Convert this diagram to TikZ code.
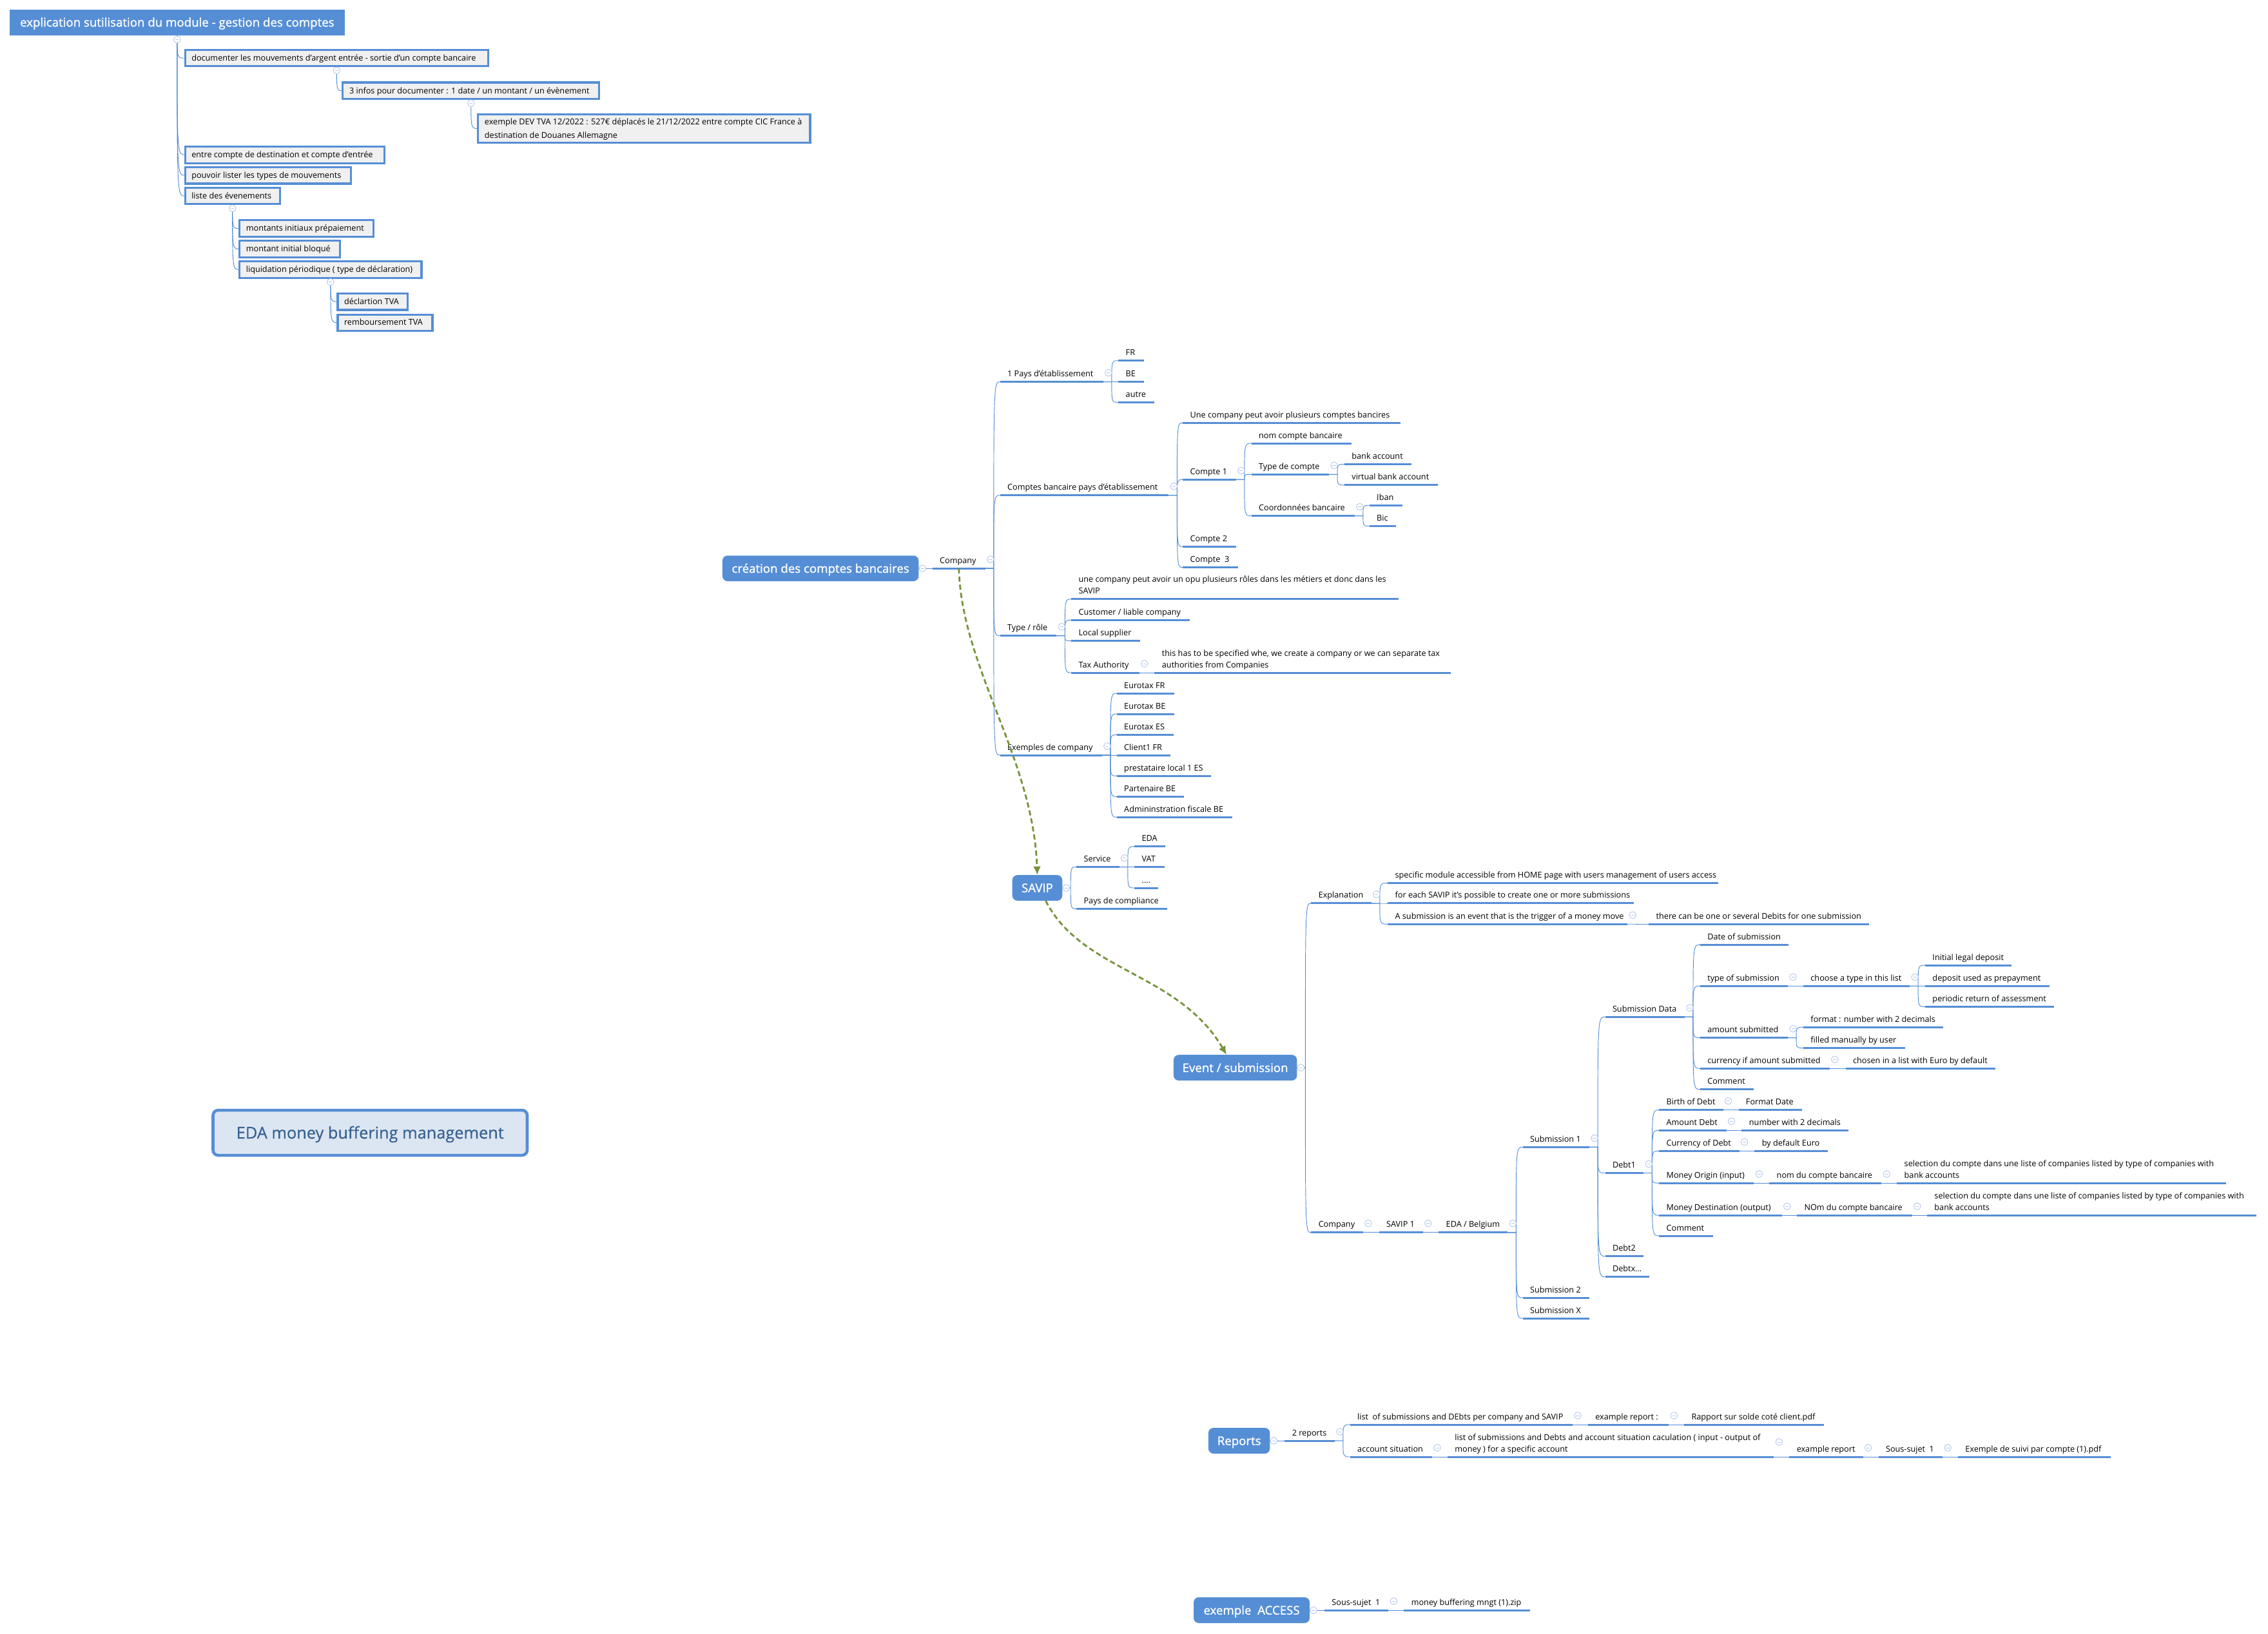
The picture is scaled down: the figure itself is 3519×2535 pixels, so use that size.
\documentclass[tikz,border=0pt]{standalone}
\usepackage{fontspec}
\setmainfont{Open Sans}
\newfontfamily\semifont{Open Sans}[FakeBold=1.1]
\newfontfamily\medfont{Open Sans}[FakeBold=0.5]
\usetikzlibrary{arrows.meta,calc}
\definecolor{mblue}{HTML}{558ED5}
\definecolor{mgreen}{HTML}{76923C}
\definecolor{mcoll}{HTML}{B7C9EC}
\definecolor{mtitle}{HTML}{366092}
\definecolor{mpale}{HTML}{DCE6F2}
\definecolor{mgrey}{HTML}{F0F0F0}
\tikzset{
  topic/.style={anchor=south west,inner sep=0pt,outer sep=0pt,text depth=6pt,font=\fontsize{9.5}{13.5}\selectfont,text=black},
  uline/.style={draw=mblue,line width=2.25pt},
  cline/.style={draw=mblue,line width=0.7pt},
  rootbox/.style={fill=mblue,text=white,rounded corners=6pt,inner sep=0pt,outer sep=0pt,text height=13pt,text depth=2.8pt,font=\fontsize{14}{16}\selectfont\semifont},
  headbox/.style={fill=mblue,text=white,inner sep=0pt,outer sep=0pt,text height=12.5pt,text depth=2.8pt,font=\fontsize{14}{15}\selectfont\semifont},
  notebox/.style={fill=mgrey,draw=mblue,line width=2.4pt,inner sep=0pt,outer sep=0pt,font=\fontsize{9.5}{16}\selectfont,text=black},
  titlebox/.style={fill=mpale,draw=mblue,line width=3.4pt,rounded corners=6pt,inner sep=0pt,outer sep=0pt,text=mtitle,text height=18pt,text depth=4.4pt,font=\fontsize{19}{22}\selectfont\medfont},
  collmark/.style={draw=mcoll,line width=0.7pt,fill=white},
  relarrow/.style={draw=mgreen,line width=2.1pt,dash pattern=on 6pt off 3.5pt,-{Latex[length=10pt,width=9pt,fill=mgreen]}}
}
% measuring frame of a group of coordinates: origin x, origin y, scale x, scale y
\newcommand{\setframe}[4]{\def\fox{#1}\def\foy{#2}\def\fsx{#3}\def\fsy{#4}}
\newcommand{\fx}[2]{\pgfmathsetmacro{#1}{\fox+(#2-\fox)*\fsx}}
\newcommand{\fy}[2]{\pgfmathsetmacro{#1}{\foy+(#2-\foy)*\fsy}}
% topic with underline: name, x0, x1, y of underline, text
\newcommand{\topic}[5]{%
  \fx{\ax}{#2}\fx{\bx}{#3}\fy{\ay}{#4}%
  \pgfmathsetlengthmacro{\tw}{(\bx-\ax)*0.75pt}%
  \node[topic] (#1) at (\ax,\ay) {\makebox[\tw][l]{\hspace{8.6pt}\begin{tabular}[b]{@{}l@{}}#5\end{tabular}}};%
  \draw[uline] (#1.south west) -- (#1.south east);}
% box: style, name, x0, x1, y0, y1, text
\newcommand{\solidbox}[7]{%
  \fx{\ax}{#3}\fx{\bx}{#4}\fy{\ay}{#5}\fy{\by}{#6}%
  \pgfmathsetlengthmacro{\tw}{(\bx-\ax)*0.75pt}%
  \pgfmathsetlengthmacro{\bxh}{(\by-\ay)*0.75pt}%
  \node[#1,minimum width=\tw,minimum height=\bxh] (#2) at ({(\ax+\bx)/2},{(\ay+\by)/2}) {#7};}
\newcommand{\notebx}[6]{%
  \fx{\ax}{#2}\fx{\bx}{#3}\fy{\ay}{#4}\fy{\by}{#5}%
  \pgfmathsetlengthmacro{\tw}{(\bx-\ax)*0.75pt-2.4pt}%
  \pgfmathsetlengthmacro{\bxh}{(\by-\ay)*0.75pt-2.4pt}%
  \node[notebox,minimum width=\tw,minimum height=\bxh] (#1) at ({(\ax+\bx)/2},{(\ay+\by)/2}) {\makebox[\tw][l]{\hspace{7.6pt}\raisebox{-1pt}{\begin{tabular}{@{}l@{}}#6\end{tabular}}}};}
% connector from parent's right end to child's underline start
\newcommand{\conn}[3][south east]{%
  \draw[cline] (#2.#1) -- ++(13,0) coordinate (spn) .. controls (spn |- #3.south west) and (spn |- #3.south west) .. (#3.south west);}
% connector from a note box's bottom to a child's left side
\newcommand{\noteconn}[2]{%
  \draw[cline] (#1.south) .. controls (#1.south |- #2.west) and (#1.south |- #2.west) .. (#2.west);}
% collapse marks
\newcommand{\markat}[1]{%
  \draw[collmark] #1 circle[radius=4pt];
  \draw[mcoll,line width=0.7pt] #1 ++(-2.6,0) -- ++(5.2,0);}
\newcommand{\coll}[2][-14]{\markat{($(#2.south east)+(8,#1)$)}}
\newcommand{\collbox}[1]{\markat{($(#1.east)+(6,0)$)}}
\newcommand{\collnote}[1]{\markat{($(#1.south)+(0,6.5)$)}}
\begin{document}
\begin{tikzpicture}[x=0.75pt,y=-0.75pt]
\useasboundingbox (0,0) rectangle (3519,2535);
% ---------- upper-left note tree
\setframe{0}{0}{0.9949}{0.9949}
\solidbox{headbox}{head}{15}{537.5}{15}{55}{explication sutilisation du module - gestion des comptes}
\notebx{na}{287}{763}{76.5}{105}{documenter les mouvements d'argent entrée - sortie d'un compte bancaire}
\notebx{nb}{533}{936}{127}{156}{3 infos pour documenter : 1 date / un montant / un évènement}
\notebx{nc}{744}{1265}{177}{224}{exemple DEV TVA 12/2022 : 527€ déplacés le 21/12/2022 entre compte CIC France à\\destination de Douanes Allemagne}
\notebx{nd}{287}{601}{227}{256}{entre compte de destination et compte d'entrée}
\notebx{ne}{287}{549}{259}{288}{pouvoir lister les types de mouvements}
\notebx{nf}{287}{438}{291.5}{320}{liste des évenements}
\notebx{ng}{372}{584}{342}{371}{montants initiaux prépaiement}
\notebx{nh}{372}{532}{374}{403}{montant initial bloqué}
\notebx{ni}{372}{659}{406}{435}{liquidation périodique ( type de déclaration)}
\notebx{nj}{525}{637.5}{456}{485}{déclartion TVA}
\notebx{nk}{525}{676}{489}{517.5}{remboursement TVA}
\noteconn{head}{na}\noteconn{head}{nd}\noteconn{head}{ne}\noteconn{head}{nf}
\noteconn{na}{nb}\noteconn{nb}{nc}
\noteconn{nf}{ng}\noteconn{nf}{nh}\noteconn{nf}{ni}
\noteconn{ni}{nj}\noteconn{ni}{nk}
\collnote{head}\collnote{na}\collnote{nb}\collnote{nf}\collnote{ni}
% ---------- title
\setframe{0}{0}{1}{1}
\solidbox{titlebox}{title}{330.5}{818}{1723}{1793}{EDA money buffering management}
% ---------- création des comptes bancaires
\setframe{1100}{520}{0.9949}{0.9949}
\solidbox{rootbox}{creation}{1121}{1427}{864}{904}{création des comptes bancaires}
\topic{comp}{1448.5}{1531}{884}{Company}
\topic{pays}{1554}{1715}{593}{1 Pays d'établissement}
\topic{fr}{1738.5}{1778}{560}{FR}
\topic{be}{1738.5}{1778}{593}{BE}
\topic{autre}{1738.5}{1795}{625}{autre}
\topic{cpts}{1554}{1817}{770}{Comptes bancaire pays d'établissement}
\topic{unec}{1839}{2178}{657}{Une company peut avoir plusieurs comptes bancires}
\topic{cun}{1839}{1922}{745.6}{Compte 1}
\topic{nomc}{1946}{2102}{689}{nom compte bancaire}
\topic{typc}{1946}{2067}{737.4}{Type de compte}
\topic{bank}{2091}{2196}{721.5}{bank account}
\topic{virt}{2091}{2237}{754}{virtual bank account}
\topic{coord}{1946}{2107}{802}{Coordonnées bancaire}
\topic{iban}{2130}{2181}{785.6}{Iban}
\topic{bic}{2130}{2171.5}{818}{Bic}
\topic{cde}{1839}{1922}{850}{Compte 2}
\topic{ctr}{1839}{1925}{882.6}{Compte~ 3}
\topic{role}{1554}{1642}{989}{Type / rôle}
\topic{unecb}{1665}{2175}{932}{une company peut avoir un opu plusieurs rôles dans les métiers et donc dans les\\SAVIP}
\topic{cust}{1665}{1850}{964.6}{Customer / liable company}
\topic{locs}{1665}{1772}{997}{Local supplier}
\topic{tax}{1665}{1771}{1046.7}{Tax Authority}
\topic{thish}{1795}{2257}{1046.7}{this has to be specified whe, we create a company or we can separate tax\\authorities from Companies}
\topic{exc}{1554}{1713}{1175.4}{Exemples de company}
\topic{efr}{1736}{1826}{1079}{Eurotax FR}
\topic{ebe}{1736}{1826}{1111}{Eurotax BE}
\topic{ees}{1736}{1825}{1143.6}{Eurotax ES}
\topic{cli}{1736}{1820}{1175.4}{Client1 FR}
\topic{pres}{1736}{1883}{1207.7}{prestataire local 1 ES}
\topic{part}{1736}{1841}{1240}{Partenaire BE}
\topic{adm}{1736}{1916}{1272}{Admininstration fiscale BE}
\conn[east]{creation}{comp}
\conn{comp}{pays}\conn{comp}{cpts}\conn{comp}{role}\conn{comp}{exc}
\conn{pays}{fr}\conn{pays}{be}\conn{pays}{autre}
\conn{cpts}{unec}\conn{cpts}{cun}\conn{cpts}{cde}\conn{cpts}{ctr}
\conn{cun}{nomc}\conn{cun}{typc}\conn{cun}{coord}
\conn{typc}{bank}\conn{typc}{virt}
\conn{coord}{iban}\conn{coord}{bic}
\conn{role}{unecb}\conn{role}{cust}\conn{role}{locs}\conn{role}{tax}
\conn{tax}{thish}
\conn{exc}{efr}\conn{exc}{ebe}\conn{exc}{ees}\conn{exc}{cli}\conn{exc}{pres}\conn{exc}{part}\conn{exc}{adm}
\collbox{creation}
\coll{comp}\coll{pays}\coll{cpts}\coll{cun}\coll{typc}\coll{coord}\coll{role}\coll{tax}\coll{exc}
% ---------- SAVIP
\setframe{1500}{1280}{0.9949}{0.9949}
\solidbox{rootbox}{savip}{1571}{1649}{1358.5}{1398.5}{SAVIP}
\topic{serv}{1671}{1738}{1346}{Service}
\topic{seda}{1761.5}{1810}{1314}{EDA}
\topic{svat}{1761.5}{1809}{1346}{VAT}
\topic{sdot}{1761.5}{1798}{1378.5}{....}
\topic{pcomp}{1671}{1813}{1411}{Pays de compliance}
\conn[east]{savip}{serv}\conn[east]{savip}{pcomp}
\conn{serv}{seda}\conn{serv}{svat}\conn{serv}{sdot}
\collbox{savip}\coll{serv}
% ---------- Event / submission
\solidbox{rootbox}{event}{1822.5}{2015}{1639}{1679}{Event / submission}
\topic{expl}{2037}{2131}{1402.6}{Explanation}
\topic{spec}{2156.5}{2672.4}{1371}{specific module accessible from HOME page with users management of users access}
\topic{fore}{2156.5}{2540.4}{1402.6}{for each SAVIP it's possible to create one or more submissions}
\topic{asub}{2156.5}{2530.4}{1435}{A submission is an event that is the trigger of a money move}
\topic{ccomp}{2037}{2118}{1916}{Company}
\topic{sav}{2143}{2211.5}{1916}{SAVIP 1}
\topic{bel}{2236}{2343.6}{1916}{EDA / Belgium}
\topic{suba}{2367}{2471}{1783}{Submission 1}
\topic{subb}{2367}{2471}{2018}{Submission 2}
\topic{subx}{2367}{2471}{2050}{Submission X}
\setframe{2400}{1330}{0.9949}{0.9949}
\topic{ther}{2559}{2903}{1435}{there can be one or several Debits for one submission}
\topic{sdata}{2491}{2615}{1579.5}{Submission Data}
\topic{dsub}{2639}{2777}{1467}{Date of submission}
\topic{tsub}{2639}{2776}{1531.4}{type of submission}
\topic{choo}{2800}{2966}{1531.4}{choose a type in this list}
\topic{init}{2990}{3125}{1499}{Initial legal deposit}
\topic{depo}{2990}{3184}{1531.4}{deposit used as prepayment}
\topic{peri}{2990}{3191}{1563.6}{periodic return of assessment}
\topic{amou}{2639}{2776}{1612}{amount submitted}
\topic{form}{2800}{3018}{1595.4}{format : number with 2 decimals}
\topic{fill}{2800}{2959}{1628}{filled manually by user}
\topic{curr}{2639}{2841}{1660}{currency if amount submitted}
\topic{chos}{2866}{3100}{1660}{chosen in a list with Euro by default}
\topic{comm}{2639}{2723}{1692.5}{Comment}
\topic{dba}{2491}{2551}{1823}{Debt1}
\topic{birth}{2575}{2675}{1724.7}{Birth of Debt}
\topic{fdate}{2699}{2798}{1724.7}{Format Date}
\topic{adebt}{2575}{2680}{1756.4}{Amount Debt}
\topic{numb}{2704}{2870.6}{1756.4}{number with 2 decimals}
\topic{cdebt}{2575}{2700}{1788.7}{Currency of Debt}
\topic{defe}{2724}{2838}{1788.7}{by default Euro}
\topic{morig}{2575}{2723}{1838.7}{Money Origin (input)}
\topic{nomo}{2747}{2922}{1838.7}{nom du compte bancaire}
\topic{selo}{2946}{3459.5}{1838.7}{selection du compte dans une liste of companies listed by type of companies with\\bank accounts}
\topic{mdest}{2575}{2766.6}{1889}{Money Destination (output)}
\topic{nomd}{2790}{2969.6}{1889}{NOm du compte bancaire}
\topic{seld}{2993}{3507}{1889}{selection du compte dans une liste of companies listed by type of companies with\\bank accounts}
\topic{commb}{2575}{2659}{1921}{Comment}
\topic{dbb}{2491}{2551}{1953}{Debt2}
\topic{dbx}{2491}{2560}{1985}{Debtx...}
\conn[east]{event}{expl}\conn[east]{event}{ccomp}
\conn{expl}{spec}\conn{expl}{fore}\conn{expl}{asub}\conn{asub}{ther}
\conn{ccomp}{sav}\conn{sav}{bel}
\conn{bel}{suba}\conn{bel}{subb}\conn{bel}{subx}
\conn{suba}{sdata}\conn{suba}{dba}\conn{suba}{dbb}\conn{suba}{dbx}
\conn{sdata}{dsub}\conn{sdata}{tsub}\conn{sdata}{amou}\conn{sdata}{curr}\conn{sdata}{comm}
\conn{tsub}{choo}\conn{choo}{init}\conn{choo}{depo}\conn{choo}{peri}
\conn{amou}{form}\conn{amou}{fill}\conn{curr}{chos}
\conn{dba}{birth}\conn{dba}{adebt}\conn{dba}{cdebt}\conn{dba}{morig}\conn{dba}{mdest}\conn{dba}{commb}
\conn{birth}{fdate}\conn{adebt}{numb}\conn{cdebt}{defe}
\conn{morig}{nomo}\conn{nomo}{selo}\conn{mdest}{nomd}\conn{nomd}{seld}
\collbox{event}
\coll{expl}\coll{asub}\coll{ccomp}\coll{sav}\coll{bel}\coll{suba}\coll{sdata}\coll{tsub}\coll{choo}\coll{amou}\coll{curr}\coll{dba}\coll{birth}\coll{adebt}\coll{cdebt}\coll{morig}\coll{nomo}\coll{mdest}\coll{nomd}
% ---------- Reports
\setframe{1850}{2160}{0.9949}{1}
\solidbox{rootbox}{reports}{1875}{1971}{2216}{2256}{Reports}
\topic{rtwo}{1994}{2072}{2236}{2 reports}
\topic{rlist}{2096}{2443}{2211}{list~ of submissions and DEbts per company and SAVIP}
\topic{rex}{2467}{2593}{2211}{example report :}
\topic{rrap}{2617}{2835}{2211}{Rapport sur solde coté client.pdf}
\topic{racc}{2096}{2224}{2261}{account situation}
\topic{rsub}{2248}{2757}{2261}{list of submissions and Debts and account situation caculation ( input - output of\\money ) for a specific account}
\topic{rexb}{2781}{2896}{2261}{example report}
\topic{rsou}{2920}{3020}{2261}{Sous-sujet~ 1}
\topic{rsui}{3044}{3282}{2261}{Exemple de suivi par compte (1).pdf}
\conn[east]{reports}{rtwo}
\conn{rtwo}{rlist}\conn{rtwo}{racc}
\conn{rlist}{rex}\conn{rex}{rrap}
\conn{racc}{rsub}\conn{rsub}{rexb}\conn{rexb}{rsou}\conn{rsou}{rsui}
\collbox{reports}
\coll{rtwo}\coll{rlist}\coll{rex}\coll{racc}\coll[-23]{rsub}\coll{rexb}\coll{rsou}
% ---------- exemple ACCESS
\solidbox{rootbox}{access}{1852}{2033}{2479}{2519}{exemple~ ACCESS}
\topic{asou}{2056}{2156}{2499}{Sous-sujet~ 1}
\topic{amon}{2180}{2377}{2499}{money buffering mngt (1).zip}
\conn[east]{access}{asou}\conn{asou}{amon}
\collbox{access}\coll{asou}
% ---------- relation arrows
\coordinate (savout) at (1622.4,1397.9);
\coordinate (evtin) at (1903,1637);
\draw[relarrow] (comp.south) .. controls (1492,1037) and (1603.4,1176.6) .. (savip.north);
\draw[relarrow] (savout) .. controls (1679,1508.8) and (1828.3,1508.8) .. (evtin);
\end{tikzpicture}
\end{document}
